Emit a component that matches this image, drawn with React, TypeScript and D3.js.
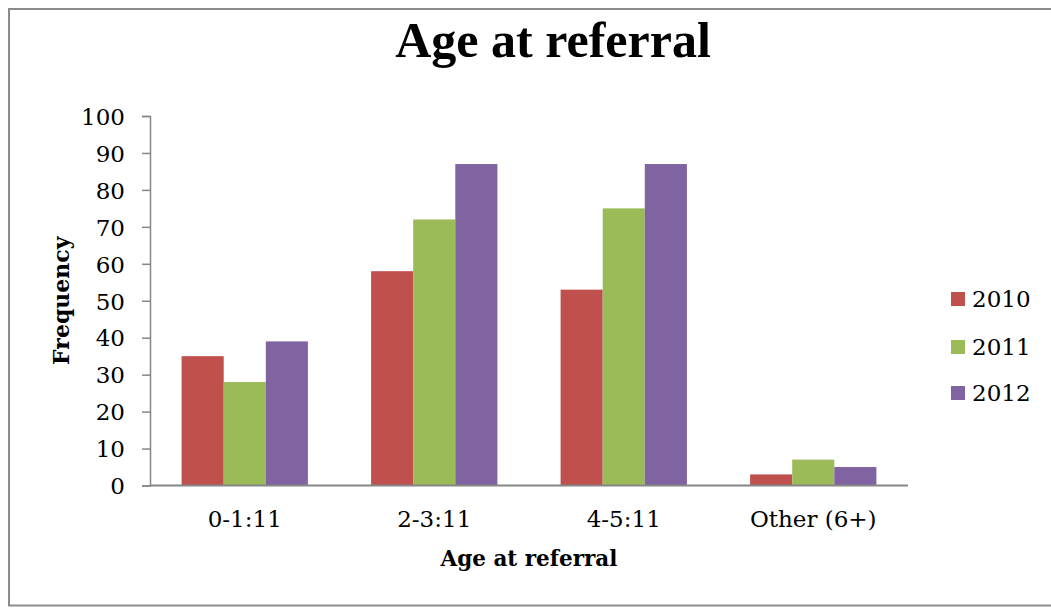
import { useEffect, useRef } from 'react'
import * as d3 from 'd3'

const CATEGORIES = ['0-1:11', '2-3:11', '4-5:11', 'Other (6+)']
const SERIES = ['2010', '2011', '2012']
const VALUES_2010 = [35, 58, 53, 3]
const VALUES_2011 = [28, 72, 75, 7]
const VALUES_2012 = [39, 87, 87, 5]
const Y_TICKS = [0, 10, 20, 30, 40, 50, 60, 70, 80, 90, 100]

const COLORS = ['#C0504D', '#9BBB59', '#8064A2']
const AXIS_COLOR = '#868686'
const FONT = '"DejaVu Serif", serif'

export default function App() {
  const svgRef = useRef<SVGSVGElement>(null)

  useEffect(() => {
    if (!svgRef.current) return
    const svg = d3.select(svgRef.current)
    svg.selectAll('*').remove()

    const W = 1051
    const plot = { left: 150, right: 908, top: 116, bottom: 485.5 }

    const seriesValues = [VALUES_2010, VALUES_2011, VALUES_2012]

    // outer frame
    svg.append('rect')
      .attr('x', 9)
      .attr('y', 9)
      .attr('width', W + 10)
      .attr('height', 596.5)
      .attr('fill', 'white')
      .attr('stroke', '#8c8c8c')
      .attr('stroke-width', 2)

    const x = d3.scaleBand<string>().domain(CATEGORIES).range([plot.left, plot.right])
    const gap = x.bandwidth() * 0.1667
    const xInner = d3.scaleBand<string>().domain(SERIES).range([gap, x.bandwidth() - gap])
    const y = d3.scaleLinear().domain([0, 100]).range([plot.bottom, plot.top])

    // bars
    SERIES.forEach((s, si) => {
      svg.append('g')
        .selectAll('rect')
        .data(CATEGORIES.map((c, ci) => ({ c, v: seriesValues[si][ci] })))
        .enter()
        .append('rect')
        .attr('x', d => (x(d.c) as number) + (xInner(s) as number))
        .attr('y', d => y(d.v))
        .attr('width', xInner.bandwidth())
        .attr('height', d => y(0) - y(d.v))
        .attr('fill', COLORS[si])
    })

    // y axis
    const yAxis = d3.axisLeft(y).tickValues(Y_TICKS).tickSize(8).tickPadding(17)
    const gy = svg.append('g')
      .attr('transform', `translate(${plot.left},0)`)
      .call(yAxis)
    gy.select('.domain').attr('stroke', AXIS_COLOR).attr('stroke-width', 1.5)
    gy.selectAll('.tick line').attr('stroke', AXIS_COLOR).attr('stroke-width', 1.5)
    gy.selectAll('.tick text')
      .attr('fill', '#000')
      .attr('font-family', FONT)
      .attr('font-size', 23)
      .attr('dy', '0.36em')

    // x axis
    svg.append('line')
      .attr('x1', plot.left)
      .attr('x2', plot.right)
      .attr('y1', y(0))
      .attr('y2', y(0))
      .attr('stroke', AXIS_COLOR)
      .attr('stroke-width', 2)

    svg.append('g')
      .selectAll('text')
      .data(CATEGORIES)
      .enter()
      .append('text')
      .attr('x', d => (x(d) as number) + x.bandwidth() / 2)
      .attr('y', 527)
      .attr('text-anchor', 'middle')
      .attr('font-family', FONT)
      .attr('font-size', 23)
      .text(d => d)

    // axis titles
    svg.append('text')
      .attr('x', (plot.left + plot.right) / 2)
      .attr('y', 566)
      .attr('text-anchor', 'middle')
      .attr('font-family', FONT)
      .attr('font-weight', 'bold')
      .attr('font-size', 21.5)
      .text('Age at referral')

    svg.append('text')
      .attr('transform', `translate(69,${(plot.top + plot.bottom) / 2}) rotate(-90)`)
      .attr('text-anchor', 'middle')
      .attr('font-family', FONT)
      .attr('font-weight', 'bold')
      .attr('font-size', 22)
      .text('Frequency')

    // title
    svg.append('text')
      .attr('x', 553)
      .attr('y', 57)
      .attr('text-anchor', 'middle')
      .attr('font-family', '"Liberation Serif", serif')
      .attr('font-weight', 'bold')
      .attr('font-size', 50)
      .text('Age at referral')

    // legend
    const legendY = [299, 347, 393]
    const lg = svg.append('g')
    SERIES.forEach((s, i) => {
      lg.append('rect')
        .attr('x', 951)
        .attr('y', legendY[i] - 7)
        .attr('width', 14)
        .attr('height', 14)
        .attr('fill', COLORS[i])
      lg.append('text')
        .attr('x', 972)
        .attr('y', legendY[i] + 8)
        .attr('font-family', FONT)
        .attr('font-size', 23)
        .text(s)
    })
  }, [])

  return (
    <svg
      ref={svgRef}
      width={1051}
      height={608}
      style={{ position: 'absolute', left: 0, top: 0, background: 'white' }}
    />
  )
}
